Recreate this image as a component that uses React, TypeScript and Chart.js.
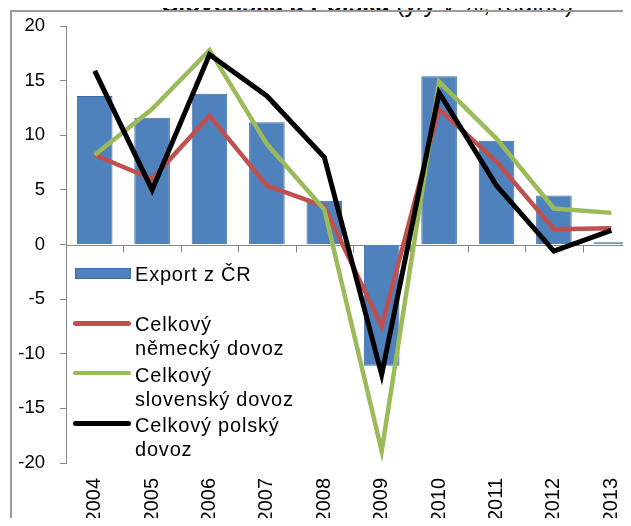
import React, { useEffect, useRef } from "react";
import { Chart, registerables } from "chart.js";

Chart.register(...registerables);

const categories = ["2004", "2005", "2006", "2007", "2008", "2009", "2010", "2011", "2012", "2013"];
const exportCR = [13.6, 11.6, 13.8, 11.2, 4.0, -11.1, 15.4, 9.5, 4.5, 0.2];
const germanImports = [8.2, 6.0, 11.8, 5.4, 3.5, -7.5, 12.4, 7.6, 1.4, 1.5];
const slovakImports = [8.2, 12.4, 17.8, 9.2, 3.2, -18.9, 14.9, 9.7, 3.3, 2.9];
const polishImports = [15.9, 5.0, 17.4, 13.6, 8.0, -11.9, 13.9, 5.4, -0.6, 1.3];
const yMin = -20;
const yMax = 20;
const yStep = 5;

const titleBold = "Slovenska a Polska";
const titleRest = " (y/y v %, reálně)";

const legendExport = "Export z ČR";
const legendGerman = ["Celkový", "německý dovoz"];
const legendSlovak = ["Celkový", "slovenský dovoz"];
const legendPolish = ["Celkový polský", "dovoz"];

const FONT = "'Liberation Sans', Arial, sans-serif";
const AXIS = "#868686";

const zeroAxis = {
  id: "zeroAxis",
  beforeDatasetsDraw(chart: any) {
    const { ctx, chartArea, scales } = chart;
    const x = scales.x;
    const y = scales.y;
    const y0 = Math.round(y.getPixelForValue(0)) + 0.5;
    const w = x.getPixelForValue(1) - x.getPixelForValue(0);
    const start = x.getPixelForValue(0) - w / 2;
    ctx.save();
    ctx.strokeStyle = AXIS;
    ctx.lineWidth = 1;
    ctx.beginPath();
    ctx.moveTo(chartArea.left, y0);
    ctx.lineTo(chartArea.right, y0);
    for (let i = 0; i <= categories.length; i++) {
      const px = Math.round(start + i * w) + 0.5;
      ctx.moveTo(px, y0);
      ctx.lineTo(px, y0 + 7);
    }
    ctx.stroke();
    ctx.restore();
  },
};

function LegendLine({ color, top }: { color: string; top: number }) {
  return (
    <div
      style={{
        position: "absolute",
        left: 73,
        top,
        width: 58,
        height: 4.5,
        borderRadius: 2.5,
        background: color,
      }}
    />
  );
}

function LegendText({ lines, top }: { lines: string[]; top: number }) {
  return (
    <div
      style={{
        position: "absolute",
        left: 135,
        top,
        fontFamily: FONT,
        fontSize: 20,
        lineHeight: "24px",
        letterSpacing: "0.8px",
        color: "#000",
        whiteSpace: "pre",
      }}
    >
      {lines.map((l, i) => (
        <div key={i}>{l}</div>
      ))}
    </div>
  );
}

export default function App() {
  const canvasRef = useRef<HTMLCanvasElement | null>(null);

  useEffect(() => {
    if (!canvasRef.current) return;
    const chart = new Chart(canvasRef.current, {
      type: "bar",
      data: {
        labels: categories,
        datasets: [
          {
            type: "bar",
            label: legendExport,
            data: exportCR,
            backgroundColor: "#4F81BD",
            borderColor: "#3D6DA6",
            borderWidth: 1,
            categoryPercentage: 1,
            barPercentage: 0.62,
            order: 4,
          },
          {
            type: "line",
            label: legendGerman.join(" "),
            data: germanImports,
            borderColor: "#C0504D",
            backgroundColor: "#C0504D",
            borderWidth: 4.5,
            pointRadius: 0,
            tension: 0,
            fill: false,
            borderJoinStyle: "miter",
            borderCapStyle: "butt",
            order: 3,
          },
          {
            type: "line",
            label: legendSlovak.join(" "),
            data: slovakImports,
            borderColor: "#9BBB59",
            backgroundColor: "#9BBB59",
            borderWidth: 4.5,
            pointRadius: 0,
            tension: 0,
            fill: false,
            borderJoinStyle: "miter",
            borderCapStyle: "butt",
            order: 2,
          },
          {
            type: "line",
            label: legendPolish.join(" "),
            data: polishImports,
            borderColor: "#000000",
            backgroundColor: "#000000",
            borderWidth: 5,
            pointRadius: 0,
            tension: 0,
            fill: false,
            borderJoinStyle: "miter",
            borderCapStyle: "butt",
            order: 1,
          },
        ] as any,
      },
      options: {
        animation: false,
        responsive: false,
        devicePixelRatio: 1,
        layout: { padding: { top: 23, right: 20, left: 0, bottom: 0 } },
        plugins: {
          legend: { display: false },
          tooltip: { enabled: false },
          title: { display: false },
        },
        scales: {
          x: {
            offset: true,
            grid: { display: false, drawTicks: false, offset: true },
            border: { display: false },
            ticks: {
              minRotation: 90,
              maxRotation: 90,
              padding: 15,
              color: "#000",
              font: { family: FONT, size: 20 },
            },
            afterFit: (s: any) => {
              s.height = 63;
            },
          },
          y: {
            min: yMin,
            max: yMax,
            ticks: {
              stepSize: yStep,
              padding: 15,
              color: "#000",
              font: { family: FONT, size: 18.5 },
            },
            grid: {
              display: true,
              drawOnChartArea: false,
              drawTicks: true,
              tickLength: 6,
              color: AXIS,
            },
            border: { display: true, color: AXIS, width: 1 },
            afterFit: (s: any) => {
              s.width = 66;
            },
          },
        },
      } as any,
      plugins: [zeroAxis],
    });
    return () => chart.destroy();
  }, []);

  return (
    <div
      style={{
        position: "relative",
        width: 631,
        height: 526,
        margin: -8,
        overflow: "hidden",
        background: "#fff",
      }}
    >
      <div
        style={{
          position: "absolute",
          left: 162,
          top: -10,
          fontFamily: FONT,
          fontSize: 24.5,
          lineHeight: "28px",
          whiteSpace: "nowrap",
          color: "#000",
        }}
      >
        <span style={{ fontWeight: "bold" }}>{titleBold}</span>
        <span>{titleRest}</span>
      </div>
      <div
        style={{
          position: "absolute",
          left: 10,
          top: 10,
          width: 700,
          height: 600,
          borderTop: "2px solid #9a9a9a",
          borderLeft: "2px solid #9a9a9a",
        }}
      />
      <canvas
        ref={canvasRef}
        width={660}
        height={526}
        style={{ position: "absolute", left: 0, top: 0, width: 660, height: 526 }}
      />
      <div
        style={{
          position: "absolute",
          left: 75,
          top: 268,
          width: 56,
          height: 11,
          boxSizing: "border-box",
          background: "#4F81BD",
          border: "1px solid #3D6DA6",
        }}
      />
      <LegendText lines={[legendExport]} top={262} />
      <LegendLine color="#C0504D" top={321} />
      <LegendText lines={legendGerman} top={312} />
      <LegendLine color="#9BBB59" top={370.5} />
      <LegendText lines={legendSlovak} top={363} />
      <LegendLine color="#000000" top={421} />
      <LegendText lines={legendPolish} top={413} />
    </div>
  );
}
